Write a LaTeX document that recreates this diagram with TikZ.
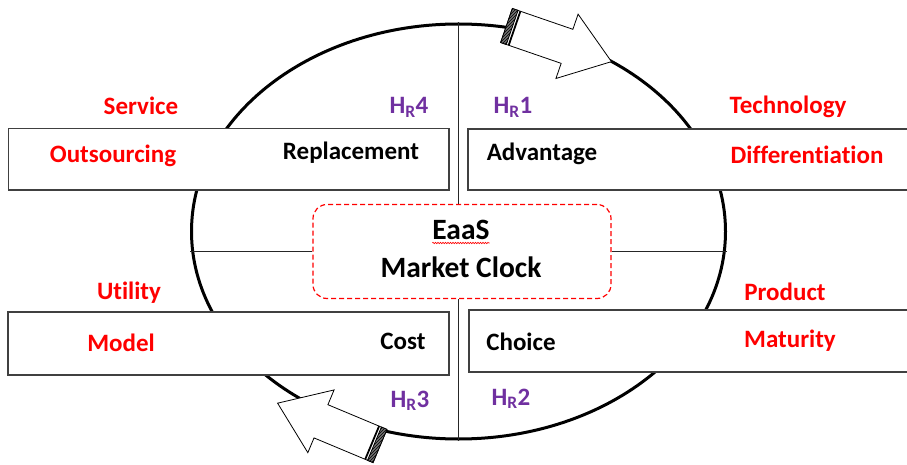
\documentclass[tikz,border=0pt]{standalone}
\usepackage{fontspec}
\setmainfont{Carlito}[Ligatures=NoCommon]
\usetikzlibrary{shapes.geometric,patterns,decorations.pathmorphing,positioning}
\definecolor{hred}{HTML}{FF0000}
\definecolor{hpurple}{HTML}{7030A0}
\definecolor{edge}{HTML}{404040}
\newcommand{\hr}[1]{H\textsubscript{R}#1}
\tikzset{panel/.style={draw=edge, fill=white, line width=1.5pt, outer sep=0pt, inner sep=0pt, anchor=north west},
  redlbl/.style={text=hred, anchor=base, inner sep=0pt},
  blklbl/.style={text=black, anchor=base, inner sep=0pt},
  hrlbl/.style={text=hpurple, anchor=base, inner sep=0pt},
  divider/.style={line width=1.2pt, draw=black!85},
  harrow/.pic={
    \filldraw[fill=white, line width=0.8pt] (0,-18) -- (64,-18) -- (64,-34) -- (111,0) -- (64,34) -- (64,18) -- (0,18) -- cycle;
    \fill[black!55] (0,-18) rectangle (6,18);
    \filldraw[pattern=north east lines, line width=0.8pt] (0,-18) rectangle (6,18);
    \draw[line width=1.8pt] (8.5,-18) -- (8.5,18);
  }}

\begin{document}
\begin{tikzpicture}[x=1pt, y=-1pt, font=\bfseries\fontsize{25}{29}\selectfont]
    \clip (0,0) rectangle (907,465);
    % clock face and centre
    \node[draw, ellipse, line width=3pt, minimum width=534pt, minimum height=415pt, inner sep=0pt] (face) at (458.5,231.5) {};
    \node[draw=hred, dash pattern=on 5pt off 3pt, rounded corners=14pt, line width=1.2pt, minimum width=298pt, minimum height=94pt] (clock) at (462,251.5) {};
    \draw[divider] (face.north) -- (face.north |- clock.north);
    \draw[divider] (face.south) -- (face.south |- clock.south);
    \draw[divider] (clock.west) -- (clock.west -| face.west);
    \draw[divider] (clock.east) -- (clock.east -| face.east);
    \node[blklbl, font=\bfseries\fontsize{29.5}{33}\selectfont] (eaas) at (461,239) {EaaS};
    \node[blklbl, font=\bfseries\fontsize{29.5}{33}\selectfont] (mkt) at (461,277) {Market Clock};
    \draw[hred, line width=0.6pt, decorate, decoration={snake, amplitude=0.7pt, segment length=2.5pt}] ([yshift=-4pt]eaas.base west) -- ([yshift=-4pt]eaas.base east);
    % panels
    \node[panel, minimum width=440.5pt, minimum height=61.5pt] (svcbox) at (8.5,128.5) {};
    \node[panel, minimum width=445pt, minimum height=61pt] (techbox) at (468,129) {};
    \node[panel, minimum width=441pt, minimum height=63pt] (utilbox) at (8,312) {};
    \node[panel, minimum width=444pt, minimum height=62pt] (prodbox) at (469,310) {};
    % turning arrows
    \pic[rotate=-19] at (506.5,25.5) {harrow};
    \pic[rotate=157.3] at (380,446) {harrow};
    % labels
    \node[redlbl] (service) at (141,115) {Service};
    \node[redlbl] (outsrc) at (113,163) {Outsourcing};
    \node[blklbl] (repl) at (351,160) {Replacement};
    \node[hrlbl] (hr4) at (409,114) {\hr{4}};
    \node[hrlbl] (hr1) at (513,114) {\hr{1}};
    \node[blklbl] (adv) at (542,161) {Advantage};
    \node[redlbl] (tech) at (788,114) {Technology};
    \node[redlbl] (diff) at (807,164) {Differentiation};
    \node[redlbl] (utility) at (129,299) {Utility};
    \node[redlbl] (model) at (121,351) {Model};
    \node[blklbl] (cost) at (403,349) {Cost};
    \node[blklbl] (choice) at (521,350) {Choice};
    \node[redlbl] (product) at (785,300) {Product};
    \node[redlbl] (maturity) at (790,347) {Maturity};
    \node[hrlbl] (hr3) at (410,407) {\hr{3}};
    \node[hrlbl] (hr2) at (511,405) {\hr{2}};
\end{tikzpicture}
\end{document}
